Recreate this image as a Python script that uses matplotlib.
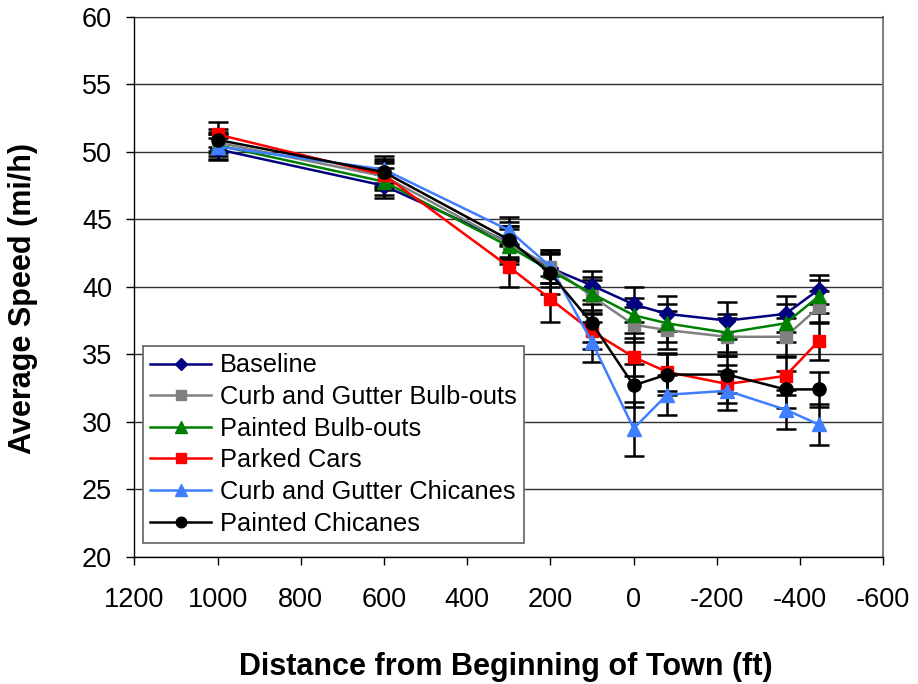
import matplotlib
matplotlib.use("Agg")
import matplotlib.pyplot as plt

plt.rcParams['font.family'] = ['Liberation Sans', 'DejaVu Sans']
plt.rcParams['axes.unicode_minus'] = False

# distance from beginning of town (ft), positive = upstream of the sign
distance = [1000, 600, 300, 200, 100, 0, -80, -225, -365, -445]

series_names = [
    "Baseline",
    "Curb and Gutter Bulb-outs",
    "Painted Bulb-outs",
    "Parked Cars",
    "Curb and Gutter Chicanes",
    "Painted Chicanes",
]

baseline = [50.2, 47.5, 43.3, 41.4, 40.1, 38.7, 38.0, 37.5, 38.0, 39.8]
curb_bulb = [50.7, 48.2, 43.2, 41.5, 39.3, 37.2, 36.8, 36.3, 36.3, 38.5]
painted_bulb = [50.5, 47.8, 43.0, 41.2, 39.5, 37.9, 37.3, 36.6, 37.3, 39.3]
parked_cars = [51.3, 48.3, 41.5, 39.1, 36.7, 34.8, 33.7, 32.8, 33.4, 36.0]
curb_chicane = [50.4, 48.7, 44.2, 41.5, 35.9, 29.5, 32.0, 32.3, 30.9, 29.8]
painted_chicane = [50.9, 48.5, 43.5, 41.0, 37.3, 32.7, 33.5, 33.5, 32.4, 32.4]

# half-width of the error bars for each series
baseline_err = [0.8, 0.9, 1.2, 1.1, 1.1, 1.3, 1.3, 1.4, 1.35, 1.1]
curb_bulb_err = [0.8, 1.0, 1.3, 1.2, 1.2, 1.3, 1.4, 1.4, 1.4, 1.2]
painted_bulb_err = [0.8, 1.0, 1.3, 1.2, 1.2, 1.3, 1.4, 1.4, 1.4, 1.2]
parked_cars_err = [0.9, 1.0, 1.5, 1.7, 1.3, 1.4, 1.4, 1.4, 1.4, 1.4]
curb_chicane_err = [0.9, 1.0, 1.0, 1.2, 1.5, 2.0, 1.5, 1.45, 1.45, 1.5]
painted_chicane_err = [0.8, 1.0, 1.3, 1.5, 1.4, 1.6, 1.5, 1.4, 1.4, 1.3]

values = [baseline, curb_bulb, painted_bulb, parked_cars, curb_chicane, painted_chicane]
errors = [baseline_err, curb_bulb_err, painted_bulb_err, parked_cars_err,
          curb_chicane_err, painted_chicane_err]
colors = ["#000080", "#808080", "#008000", "#FF0000", "#3F7FFF", "#000000"]
markers = ["D", "s", "^", "s", "^", "o"]
msizes = [8, 9, 10, 9, 10, 9.5]

fig = plt.figure(figsize=(9.18, 6.84), dpi=100)
ax = fig.add_axes([0.1463, 0.1861, 0.8159, 0.789])

for name, y, err, c, m, ms in zip(series_names, values, errors, colors, markers, msizes):
    ax.errorbar(distance, y, yerr=err, fmt="none", ecolor="black",
                elinewidth=1.8, capsize=7, capthick=1.8, zorder=3)
    ax.plot(distance, y, color=c, marker=m, markersize=ms, linewidth=1.8,
            markeredgecolor=c, label=name, zorder=4)

ax.set_xlim(1200, -600)
ax.set_ylim(20, 60)
ax.set_xticks(range(1200, -601, -200))
ax.set_yticks(range(20, 61, 5))

ax.yaxis.grid(True, color="#303030", linewidth=1.0)
ax.set_axisbelow(True)

for side in ["left", "bottom"]:
    ax.spines[side].set_color("black")
    ax.spines[side].set_linewidth(1.0)
ax.spines["right"].set_color("#808080")
ax.spines["right"].set_linewidth(1.5)
ax.spines["top"].set_color("#303030")

ax.tick_params(axis="both", direction="out", length=6, width=1.0,
               labelsize=19.5, colors="black")
ax.tick_params(axis="x", pad=16)
ax.tick_params(axis="y", pad=10)

ax.set_xlabel("Distance from Beginning of Town (ft)", fontsize=22,
              fontweight="bold")
ax.set_ylabel("Average Speed (mi/h)", fontsize=22, fontweight="bold")
ax.xaxis.set_label_coords(0.496, -0.176)
ax.yaxis.set_label_coords(-0.129, 0.479)

leg = ax.legend(loc="lower left", bbox_to_anchor=(0.011, 0.025),
                borderaxespad=0, fontsize=18.3, handlelength=2.4,
                markerscale=0.8, labelspacing=0.3, handletextpad=0.35,
                fancybox=False, framealpha=1, edgecolor="#606060",
                borderpad=0.3)
leg.get_frame().set_linewidth(1.2)
leg.set_zorder(10)

fig.savefig("out.png", dpi=100)
